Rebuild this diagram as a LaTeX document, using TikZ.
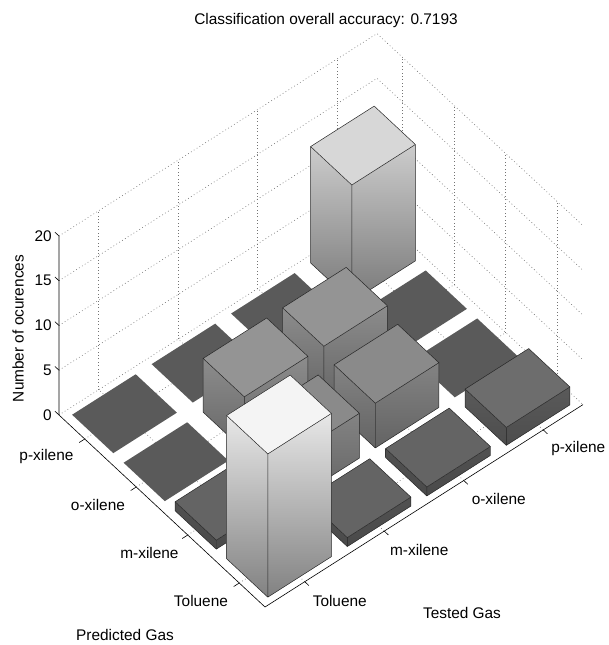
\documentclass[tikz,border=0pt]{standalone}
\usepackage{fontspec}
\setmainfont{Liberation Sans}
\usepackage{tikz}
\usetikzlibrary{positioning,calc}
\tikzstyle{gridline}=[black!55,line width=0.6pt,dash pattern=on 0.8pt off 2.6pt]
\tikzstyle{axisline}=[black,line width=0.6pt]
\tikzstyle{edge}=[black!85,line width=0.5pt,line join=round]
\tikzstyle{ticklabel}=[font=\fontsize{15.4}{18}\selectfont,inner sep=0pt]

% one bar of the histogram: tested, predicted, count
\newcommand{\gasbar}[3]{%
  \pgfmathsetmacro\gtop{(90+9.6*#3)/255}%
  \pgfmathsetmacro\gup{(0.95*(90+9.6*#3)-14*(#3<3))/255}%
  \pgfmathsetmacro\glow{(0.95*(90+2.9*#3)-14*(#3<3))/255}%
  \definecolor{bartop}{gray}{\gtop}%
  \definecolor{sideup}{gray}{\gup}%
  \definecolor{sidelow}{gray}{\glow}%
  \ifnum#3>0
    \shade[top color=sideup,bottom color=sidelow] (#1-0.4,#2-0.4,0) -- (#1-0.4,#2+0.4,0) -- (#1-0.4,#2+0.4,#3) -- (#1-0.4,#2-0.4,#3) -- cycle;
    \shade[top color=sideup,bottom color=sidelow] (#1-0.4,#2-0.4,0) -- (#1+0.4,#2-0.4,0) -- (#1+0.4,#2-0.4,#3) -- (#1-0.4,#2-0.4,#3) -- cycle;
    \filldraw[edge,fill=bartop] (#1-0.4,#2-0.4,#3) -- (#1+0.4,#2-0.4,#3) -- (#1+0.4,#2+0.4,#3) -- (#1-0.4,#2+0.4,#3) -- cycle;
    \draw[edge] (#1-0.4,#2+0.4,#3) -- (#1-0.4,#2+0.4,0) -- (#1-0.4,#2-0.4,0) -- (#1+0.4,#2-0.4,0) -- (#1+0.4,#2-0.4,#3)
                (#1-0.4,#2-0.4,0) -- (#1-0.4,#2-0.4,#3);
  \else
    \fill[bartop] (#1-0.4,#2-0.4,0) -- (#1+0.4,#2-0.4,0) -- (#1+0.4,#2+0.4,0) -- (#1-0.4,#2+0.4,0) -- cycle;
  \fi
}

\begin{document}
\begin{tikzpicture}
\useasboundingbox (0,0) rectangle (608pt,-645pt);
\begin{scope}[shift={(251pt,-656.3pt)},x={(79.5pt,50.6pt)},y={(-51.5pt,48pt)},z={(0pt,8.95pt)}]
% back walls and floor grid
\foreach \h in {0,5,...,20}
  \draw[gridline] (0.5,4.5,\h) -- (4.5,4.5,\h) -- (4.5,0.5,\h);
\foreach \k in {1,...,4}{
  \draw[gridline] (\k,4.5,0) -- (\k,4.5,20);
  \draw[gridline] (4.5,\k,0) -- (4.5,\k,20);
  \draw[gridline] (\k,0.5,0) -- (\k,4.5,0);
  \draw[gridline] (0.5,\k,0) -- (4.5,\k,0);
}
% bars, back to front
\gasbar{4}{4}{13}
\gasbar{4}{3}{0}
\gasbar{3}{4}{0}
\gasbar{4}{2}{0}
\gasbar{3}{3}{6}
\gasbar{2}{4}{0}
\gasbar{4}{1}{2}
\gasbar{3}{2}{5}
\gasbar{2}{3}{6}
\gasbar{1}{4}{0}
\gasbar{3}{1}{1}
\gasbar{2}{2}{5}
\gasbar{1}{3}{0}
\gasbar{2}{1}{1}
\gasbar{1}{2}{1}
\gasbar{1}{1}{16}
% axes
\coordinate (L) at (0.5,4.5,0);
\coordinate (F) at (0.5,0.5,0);
\coordinate (R) at (4.5,0.5,0);
\coordinate (Ltop) at (0.5,4.5,20);
\draw[axisline] (Ltop) -- (L) -- (F) -- (R);
\foreach \h in {0,5,...,20}{
  \coordinate (zt\h) at (0.5,4.5,\h);
  \draw[axisline] (zt\h) -- (0.5,4.58,\h);
  \node[ticklabel,left=7pt of zt\h] (zl\h) {\h};
}
\foreach \k/\gas in {1/Toluene,2/m-xilene,3/o-xilene,4/p-xilene}{
  \draw[axisline] (0.5,\k,0) -- (0.43,\k,0);
  \node[ticklabel] (pg\k) at (0.07,\k+0.08,0) {\gas};
  \draw[axisline] (\k,0.5,0) -- (\k,0.42,0);
  \node[ticklabel] (tg\k) at (\k+0.11,-0.01,0) {\gas};
}
\end{scope}
\node[ticklabel] (title) at (326pt,-21pt) {Classification overall accuracy: 0.7193};
\node[ticklabel,rotate=90] (zlab) at (18pt,-328.5pt) {Number of ocurences};
\node[ticklabel] (tlab) at (462pt,-613pt) {Tested Gas};
\node[ticklabel] (plab) at (125pt,-635pt) {Predicted Gas};
\end{tikzpicture}
\end{document}
